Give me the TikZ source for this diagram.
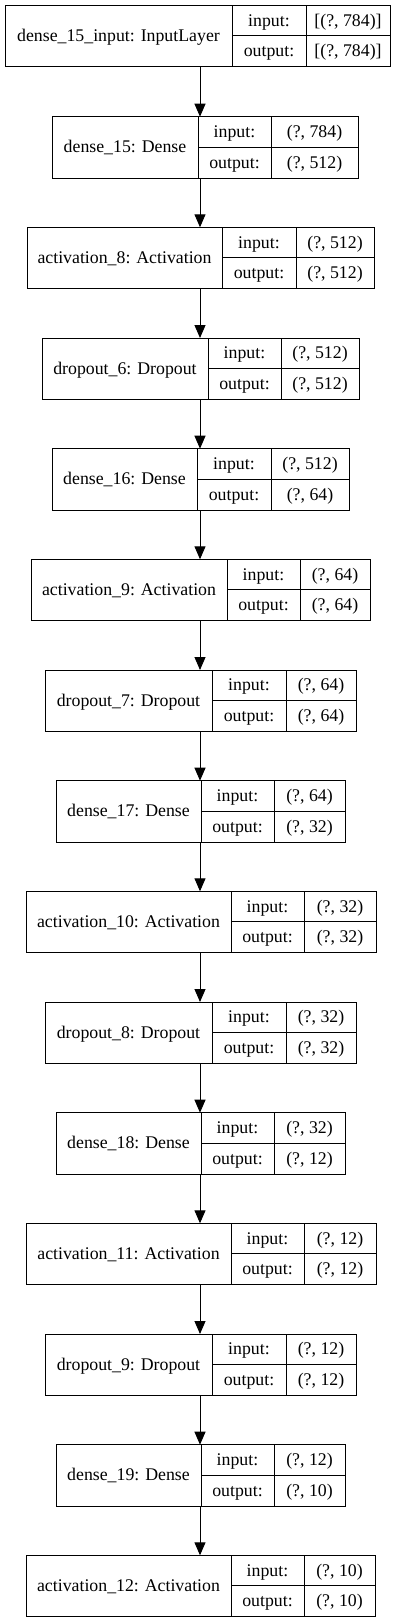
\documentclass[tikz,border=0pt]{standalone}
\usepackage{fontspec}
\setmainfont{Liberation Serif}
\usetikzlibrary{arrows.meta,fit}
\tikzset{
  x=1pt, y=-1pt,
  boxframe/.style={draw=black, line width=1pt, inner sep=0pt, outer sep=0pt},
  cellline/.style={draw=black, line width=1pt},
  lbl/.style={anchor=base, inner sep=0pt, font=\fontsize{17.8}{20}\selectfont},
  arr/.style={draw=black, line width=1pt, -{Triangle[length=13pt,width=11pt]}}
}
\newcommand\mylayer[9]{%
  \coordinate (#1nw) at (#3,#2);
  \coordinate (#1se) at (#6,#2+61.3);
  \node[boxframe, fit=(#1nw)(#1se)] (#1) {};
  \draw[cellline] (#4,#2) -- (#4,#2+61.3);
  \draw[cellline] (#5,#2) -- (#5,#2+61.3);
  \draw[cellline] (#4,#2+30.65) -- (#6,#2+30.65);
  \node[lbl] (#1name) at ({(#3+#4)/2},#2+30.65+5.5) {#7};
  \node[lbl] (#1ik) at ({(#4+#5)/2},#2+15.3+5.5) {input:};
  \node[lbl] (#1iv) at ({(#5+#6)/2},#2+15.3+5.5) {#8};
  \node[lbl] (#1ok) at ({(#4+#5)/2},#2+46+5.5) {output:};
  \node[lbl] (#1ov) at ({(#5+#6)/2},#2+46+5.5) {#9};
}
\begin{document}
\begin{tikzpicture}
\useasboundingbox (0,0) rectangle (401,1623);
\coordinate (axis) at (200,0);
\mylayer{L1}{5.3}{5}{232}{306}{390}{dense\_15\_input: InputLayer}{[(?, 784)]}{[(?, 784)]}
\mylayer{L2}{116.7}{52}{198}{271}{358}{dense\_15: Dense}{(?, 784)}{(?, 512)}
\mylayer{L3}{227.3}{27}{222}{296}{374}{activation\_8: Activation}{(?, 512)}{(?, 512)}
\mylayer{L4}{338}{42}{208}{281}{359}{dropout\_6: Dropout}{(?, 512)}{(?, 512)}
\mylayer{L5}{448.7}{52}{197}{271}{349}{dense\_16: Dense}{(?, 512)}{(?, 64)}
\mylayer{L6}{559.3}{31}{227}{300}{370}{activation\_9: Activation}{(?, 64)}{(?, 64)}
\mylayer{L7}{670}{45}{212}{286}{356}{dropout\_7: Dropout}{(?, 64)}{(?, 64)}
\mylayer{L8}{780.7}{56}{201}{274}{345}{dense\_17: Dense}{(?, 64)}{(?, 32)}
\mylayer{L9}{891.3}{26}{231}{304}{376}{activation\_10: Activation}{(?, 32)}{(?, 32)}
\mylayer{L10}{1002}{45}{212}{286}{356}{dropout\_8: Dropout}{(?, 32)}{(?, 32)}
\mylayer{L11}{1112.7}{56}{201}{274}{345}{dense\_18: Dense}{(?, 32)}{(?, 12)}
\mylayer{L12}{1223.3}{26}{231}{304}{376}{activation\_11: Activation}{(?, 12)}{(?, 12)}
\mylayer{L13}{1334}{45}{212}{286}{356}{dropout\_9: Dropout}{(?, 12)}{(?, 12)}
\mylayer{L14}{1444.7}{56}{201}{274}{345}{dense\_19: Dense}{(?, 12)}{(?, 10)}
\mylayer{L15}{1555.3}{26}{231}{304}{375}{activation\_12: Activation}{(?, 10)}{(?, 10)}
\foreach \a/\b in {1/2,2/3,3/4,4/5,5/6,6/7,7/8,8/9,9/10,10/11,11/12,12/13,13/14,14/15}
  \draw[arr] (L\a.south -| axis) -- (L\b.north -| axis);
\end{tikzpicture}
\end{document}
